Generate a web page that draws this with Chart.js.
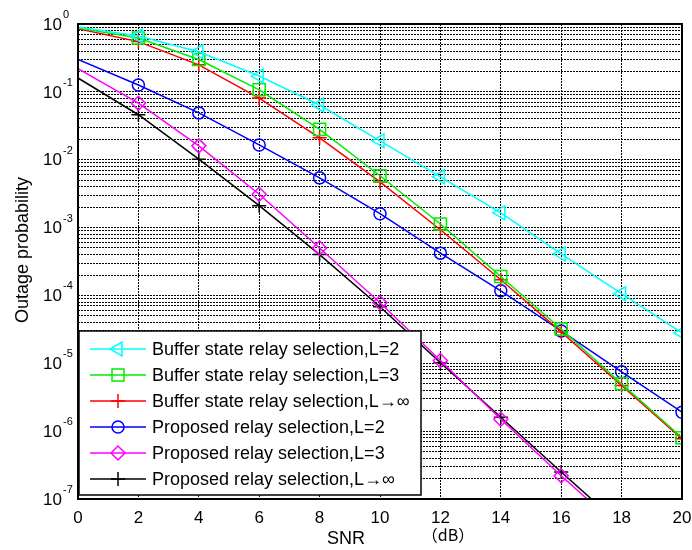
<!DOCTYPE html>
<html>
<head>
<meta charset="utf-8">
<script src="https://cdn.jsdelivr.net/npm/chart.js@4.4.0/dist/chart.umd.min.js"></script>
<style>
  html, body { margin: 0; padding: 0; background: #fff; }
</style>
</head>
<body>
<canvas id="myChart" width="692" height="550"></canvas>
<script>
const snr = [0, 2, 4, 6, 8, 10, 12, 14, 16, 18, 20];
const xTicks = [0, 2, 4, 6, 8, 10, 12, 14, 16, 18, 20];
const yDecades = [-7, -6, -5, -4, -3, -2, -1, 0];

const bufferL2 = [0.90, 0.665, 0.39, 0.171, 0.064, 0.019, 0.0056, 0.00165, 4.1e-4, 1.06e-4, 2.8e-5];
const bufferL3 = [0.87, 0.62, 0.30, 0.107, 0.028, 0.0058, 0.00113, 1.9e-4, 3.2e-5, 5.0e-6, 8.0e-7];
const bufferInf = [0.85, 0.55, 0.25, 0.081, 0.021, 0.0047, 9.3e-4, 1.7e-4, 2.9e-5, 4.7e-6, 7.7e-7];
const proposedL2 = [0.30, 0.126, 0.049, 0.0165, 0.0054, 0.0016, 4.2e-4, 1.17e-4, 3.0e-5, 7.5e-6, 1.9e-6];
const proposedL3 = [0.22, 0.068, 0.016, 0.0031, 5.0e-4, 7.8e-5, 1.1e-5, 1.5e-6, 2.2e-7, 3.5e-8, 4e-9];
const proposedInf = [0.16, 0.046, 0.0102, 0.0021, 4.0e-4, 6.8e-5, 1.02e-5, 1.6e-6, 2.5e-7, 4e-8, 5e-9];

const labels = [
  'Buffer state relay selection,L=2',
  'Buffer state relay selection,L=3',
  'Buffer state relay selection,L\u2192\u221e',
  'Proposed relay selection,L=2',
  'Proposed relay selection,L=3',
  'Proposed relay selection,L\u2192\u221e'
];

const FONT = "'Liberation Sans', Arial, sans-serif";

function series(label, values, color, style, radius, rotation) {
  return {
    label,
    data: snr.map((x, i) => ({ x, y: values[i] })),
    borderColor: color,
    borderWidth: 1.5,
    backgroundColor: 'transparent',
    pointStyle: style,
    pointRotation: rotation || 0,
    // no marker at snr = 0
    pointRadius: (c) => c.dataIndex === 0 ? 0 : radius,
    pointHoverRadius: radius,
    pointBorderColor: color,
    pointBorderWidth: 1.5,
    pointBackgroundColor: 'transparent',
    tension: 0,
    fill: false
  };
}

const datasets = [
  series(labels[0], bufferL2, '#00ffff', 'triangle', 8, -90),
  series(labels[1], bufferL3, '#00ee00', 'rect', 8.5),
  series(labels[2], bufferInf, '#ff0000', 'cross', 7),
  series(labels[3], proposedL2, '#0000ff', 'circle', 6),
  series(labels[4], proposedL3, '#ff00ff', 'rectRot', 7),
  series(labels[5], proposedInf, '#000000', 'cross', 7)
];

// frame, tick labels, axis titles and legend box
const decorations = {
  id: 'decorations',
  afterDraw(chart) {
    const ctx = chart.ctx;
    const area = chart.chartArea;
    const yScale = chart.scales.y;

    ctx.save();
    ctx.strokeStyle = '#000';
    ctx.lineWidth = 2;
    ctx.strokeRect(area.left, area.top, area.right - area.left, area.bottom - area.top);

    // y tick labels 10^n
    ctx.fillStyle = '#000';
    ctx.textBaseline = 'middle';
    yDecades.forEach((e) => {
      const py = yScale.getPixelForValue(Math.pow(10, e));
      ctx.font = '17px ' + FONT;
      ctx.textAlign = 'right';
      ctx.fillText('10', 62, py + 1);
      ctx.font = '11px ' + FONT;
      ctx.textAlign = 'left';
      ctx.fillText(String(e), 63, py - 9);
    });

    // axis titles
    ctx.font = '18px ' + FONT;
    ctx.textAlign = 'center';
    ctx.fillText('SNR', 346, 539);
    ctx.font = "16px 'Noto Sans CJK SC', sans-serif";
    ctx.fillText('\uff08dB\uff09', 448, 535);

    ctx.save();
    ctx.translate(23, 250);
    ctx.rotate(-Math.PI / 2);
    ctx.font = '18px ' + FONT;
    ctx.fillText('Outage probability', 0, 0);
    ctx.restore();

    // legend
    const box = { x: 79, y: 331, w: 342, h: 164 };
    ctx.fillStyle = '#fff';
    ctx.fillRect(box.x, box.y, box.w, box.h);
    ctx.strokeStyle = '#000';
    ctx.lineWidth = 1.5;
    ctx.strokeRect(box.x, box.y, box.w, box.h);

    chart.data.datasets.forEach((ds, i) => {
      const ly = 349 + i * 26;
      ctx.strokeStyle = ds.borderColor;
      ctx.lineWidth = 1.5;
      ctx.beginPath();
      ctx.moveTo(90, ly);
      ctx.lineTo(146, ly);
      ctx.stroke();
      ctx.fillStyle = 'rgba(0,0,0,0)';
      Chart.helpers.drawPoint(ctx, {
        pointStyle: ds.pointStyle,
        rotation: ds.pointRotation,
        radius: ds.pointHoverRadius,
        borderWidth: 1.5
      }, 118, ly);
      ctx.fillStyle = '#000';
      ctx.font = '18px ' + FONT;
      ctx.textAlign = 'left';
      ctx.textBaseline = 'middle';
      ctx.fillText(ds.label, 152, ly + 1);
    });
    ctx.restore();
  }
};

const ctx = document.getElementById('myChart').getContext('2d');
const chart = new Chart(ctx, {
  type: 'line',
  data: { datasets },
  options: {
    responsive: false,
    animation: false,
    devicePixelRatio: 1,
    layout: { padding: { top: 24, right: 9, left: 0, bottom: 0 } },
    plugins: {
      legend: { display: false },
      tooltip: { enabled: false }
    },
    scales: {
      x: {
        type: 'linear',
        min: 0,
        max: 20,
        afterBuildTicks: (scale) => {
          scale.ticks = xTicks.map(v => ({ value: v }));
        },
        afterFit: (scale) => {
          scale.height = 51;
          scale.paddingLeft = 0;
          scale.paddingRight = 0;
        },
        ticks: {
          padding: 9,
          maxRotation: 0,
          color: '#000',
          font: { family: FONT, size: 17 }
        },
        grid: { color: '#000', lineWidth: 1, drawTicks: false },
        border: { display: false, dash: [2, 1] }
      },
      y: {
        type: 'logarithmic',
        min: 1e-7,
        max: 1,
        afterBuildTicks: (scale) => {
          const t = [];
          for (let e = -7; e < 0; e++) {
            for (let k = 1; k < 10; k++) t.push({ value: k * Math.pow(10, e) });
          }
          t.push({ value: 1 });
          scale.ticks = t;
        },
        afterFit: (scale) => {
          scale.width = 78;
          scale.paddingTop = 0;
          scale.paddingBottom = 0;
        },
        ticks: { display: false },
        grid: { color: '#000', lineWidth: 1, drawTicks: false },
        border: { display: false, dash: [2, 1] }
      }
    }
  },
  plugins: [decorations]
});
</script>
</body>
</html>
